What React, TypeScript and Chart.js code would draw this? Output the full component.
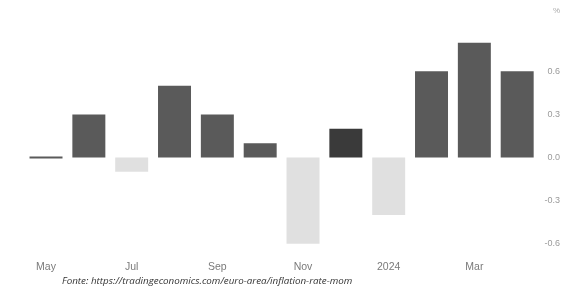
import React, { useEffect, useRef } from "react";
import { Chart, registerables } from "chart.js";
Chart.register(...registerables);

const categories = ["May", "Jun", "Jul", "Aug", "Sep", "Oct", "Nov", "Dec", "2024", "Feb", "Mar", "Apr"];
const values = [0.0, 0.3, -0.1, 0.5, 0.3, 0.1, -0.6, 0.2, -0.4, 0.6, 0.8, 0.6];
const yTickValues = [-0.6, -0.3, 0, 0.3, 0.6];
const unitLabel = "%";
const sourceText = "Fonte: https://tradingeconomics.com/euro-area/inflation-rate-mom";

const POS = "#5a5a5a";
const NEG = "#e0e0e0";
const DARK = "#3a3a3a";

export default function App() {
  const ref = useRef<HTMLCanvasElement | null>(null);
  useEffect(() => {
    if (!ref.current) return;
    const colors = values.map((v, i) => (categories[i] === "Dec" ? DARK : v < 0 ? NEG : POS));
    const chart = new Chart(ref.current, {
      type: "bar",
      data: {
        labels: categories,
        datasets: [
          {
            data: values,
            backgroundColor: colors,
            borderWidth: 0,
            barPercentage: 0.77,
            categoryPercentage: 1,
            minBarLength: 2,
          },
        ],
      },
      options: {
        responsive: false,
        animation: false,
        layout: { padding: { left: 24.6, top: 28.3, right: 19, bottom: 0 } },
        plugins: { legend: { display: false }, tooltip: { enabled: false } },
        scales: {
          x: {
            grid: { display: false, drawTicks: false },
            border: { display: false },
            ticks: {
              autoSkip: false,
              maxRotation: 0,
              padding: 3,
              color: "#7a7a7a",
              font: { family: "Liberation Sans", size: 10.5 },
              callback: (_v: any, i: number) => (i % 2 === 0 ? categories[i] : ""),
            },
            afterFit: (s: any) => {
              s.height = 36;
            },
          },
          y: {
            position: "right",
            min: -0.7,
            max: 0.9,
            grid: { display: false, drawTicks: false },
            border: { display: false },
            afterBuildTicks: (s: any) => {
              s.ticks = yTickValues.map((v) => ({ value: v }));
            },
            ticks: {
              crossAlign: "far",
              padding: 0,
              color: "#9a9a9a",
              font: { family: "Liberation Sans", size: 9 },
              callback: (v: any) => Number(v).toFixed(1),
            },
            afterFit: (s: any) => {
              s.width = 21.4;
            },
          },
        },
      },
    });
    return () => chart.destroy();
  }, []);
  return (
    <div style={{ position: "absolute", left: 0, top: 0, width: 579, height: 294, background: "#fff", overflow: "hidden" }}>
      <canvas ref={ref} width={579} height={294} style={{ display: "block" }} />
      <div
        style={{
          position: "absolute",
          left: 553,
          top: 6,
          fontFamily: "Liberation Sans",
          fontSize: 8,
          color: "#aaa",
        }}
      >
        {unitLabel}
      </div>
      <div
        style={{
          position: "absolute",
          left: 62,
          top: 274,
          fontFamily: "Open Sans",
          fontStyle: "italic",
          fontSize: 9.8,
          color: "#333",
          whiteSpace: "nowrap",
        }}
      >
        {sourceText}
      </div>
    </div>
  );
}
